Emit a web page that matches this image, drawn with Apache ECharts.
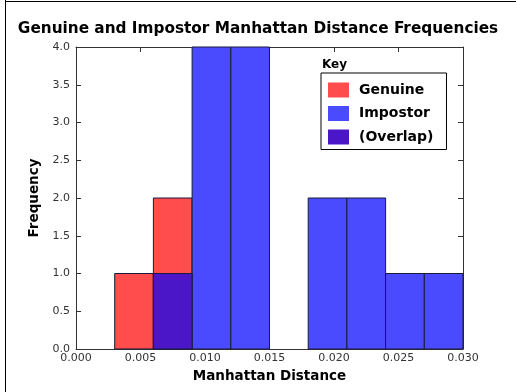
<!DOCTYPE html>
<html><head><meta charset="utf-8">
<script src="https://cdn.jsdelivr.net/npm/echarts@6/dist/echarts.min.js"></script>
<style>html,body{margin:0;padding:0;background:#fff}#c{width:516px;height:392px}</style>
</head><body><div id="c"></div>
<script>
const binStarts = [0.003, 0.006, 0.009, 0.012, 0.018, 0.021, 0.024, 0.027];
const binWidth = 0.003;
const genuine  = [1, 2, 0, 0, 0, 0, 0, 0];
const impostor = [0, 1, 4, 4, 2, 2, 1, 1];
const overlap  = [0, 1, 0, 0, 0, 0, 0, 0];
const xTicks = ['0.000','0.005','0.010','0.015','0.020','0.025','0.030'];
const yTicks = ['0.0','0.5','1.0','1.5','2.0','2.5','3.0','3.5','4.0'];
const seriesNames = ['Genuine','Impostor','(Overlap)'];
const colors = ['#ff4d4d','#4a4aff','#4a16c8'];

function toData(vals){
  const out=[];
  vals.forEach((v,i)=>{ if(v>0) out.push([binStarts[i], binStarts[i]+binWidth, v]); });
  return out;
}
function mk(name, vals, color, z){
  return {
    type:'custom', name:name, z:z,
    itemStyle:{color:color},
    encode:{x:[0,1], y:2},
    data: toData(vals),
    renderItem:function(params, api){
      const p0=api.coord([api.value(0), api.value(2)]);
      const p1=api.coord([api.value(1), 0]);
      return {type:'rect', shape:{x:p0[0], y:p0[1], width:p1[0]-p0[0], height:p1[1]-p0[1]},
        style:{fill:color, stroke:'#1a1a3a', lineWidth:1}};
    }
  };
}
const chart = echarts.init(document.getElementById('c'), null, {renderer:'canvas'});
const tickFont = {fontFamily:'DejaVu Sans', fontSize:11, color:'#333'};
const axBase = {
  type:'value', min:0,
  axisLine:{show:true, onZero:false, lineStyle:{color:'#333', width:1}},
  axisTick:{show:true, inside:true, length:5, lineStyle:{color:'#333'}},
  splitLine:{show:false}
};
chart.setOption({
  animation:false,
  title:{text:'Genuine and Impostor Manhattan Distance Frequencies', left:'center', top:17,
    textStyle:{fontFamily:'DejaVu Sans', fontWeight:'bold', fontSize:15.3, color:'#000'}},
  grid:{left:76, top:47, width:387, height:302},
  legend:{
    data:seriesNames, orient:'vertical', left:321, top:73,
    padding:[9.5,13,5,7], itemWidth:21, itemHeight:15, itemGap:8.5,
    borderColor:'#000', borderWidth:1, icon:'rect',
    textStyle:{fontFamily:'DejaVu Sans', fontWeight:'bold', fontSize:14, color:'#000', padding:[0,0,0,5]},
    selectedMode:false
  },
  xAxis:[
    Object.assign({}, axBase, {position:'bottom', max:0.03, interval:0.005,
      name:'Manhattan Distance', nameLocation:'middle', nameGap:20,
      nameTextStyle:{fontFamily:'DejaVu Sans', fontWeight:'bold', fontSize:13.5, color:'#000'},
      axisLabel:Object.assign({margin:4, formatter:(v)=>xTicks[Math.round(v/0.005)]}, tickFont)}),
    Object.assign({}, axBase, {position:'top', max:0.03, interval:0.005, axisLabel:{show:false}})
  ],
  yAxis:[
    Object.assign({}, axBase, {position:'left', max:4, interval:0.5,
      name:'Frequency', nameLocation:'middle', nameGap:27,
      nameTextStyle:{fontFamily:'DejaVu Sans', fontWeight:'bold', fontSize:13.5, color:'#000'},
      axisLabel:Object.assign({margin:6, formatter:(v)=>yTicks[Math.round(v/0.5)]}, tickFont)}),
    Object.assign({}, axBase, {position:'right', max:4, interval:0.5, axisLabel:{show:false}})
  ],
  graphic:[
    {type:'line', shape:{x1:5.5,y1:0,x2:5.5,y2:392}, style:{stroke:'#000', lineWidth:1}},
    {type:'line', shape:{x1:5,y1:1.5,x2:516,y2:1.5}, style:{stroke:'#000', lineWidth:1}},
    {type:'text', left:322, top:59, style:{text:'Key', fontFamily:'DejaVu Sans', fontWeight:'bold', fontSize:12, fill:'#000'}}
  ],
  series:[
    mk(seriesNames[0], genuine, colors[0], 2),
    mk(seriesNames[1], impostor, colors[1], 3),
    mk(seriesNames[2], overlap, colors[2], 4)
  ]
});
</script></body></html>
